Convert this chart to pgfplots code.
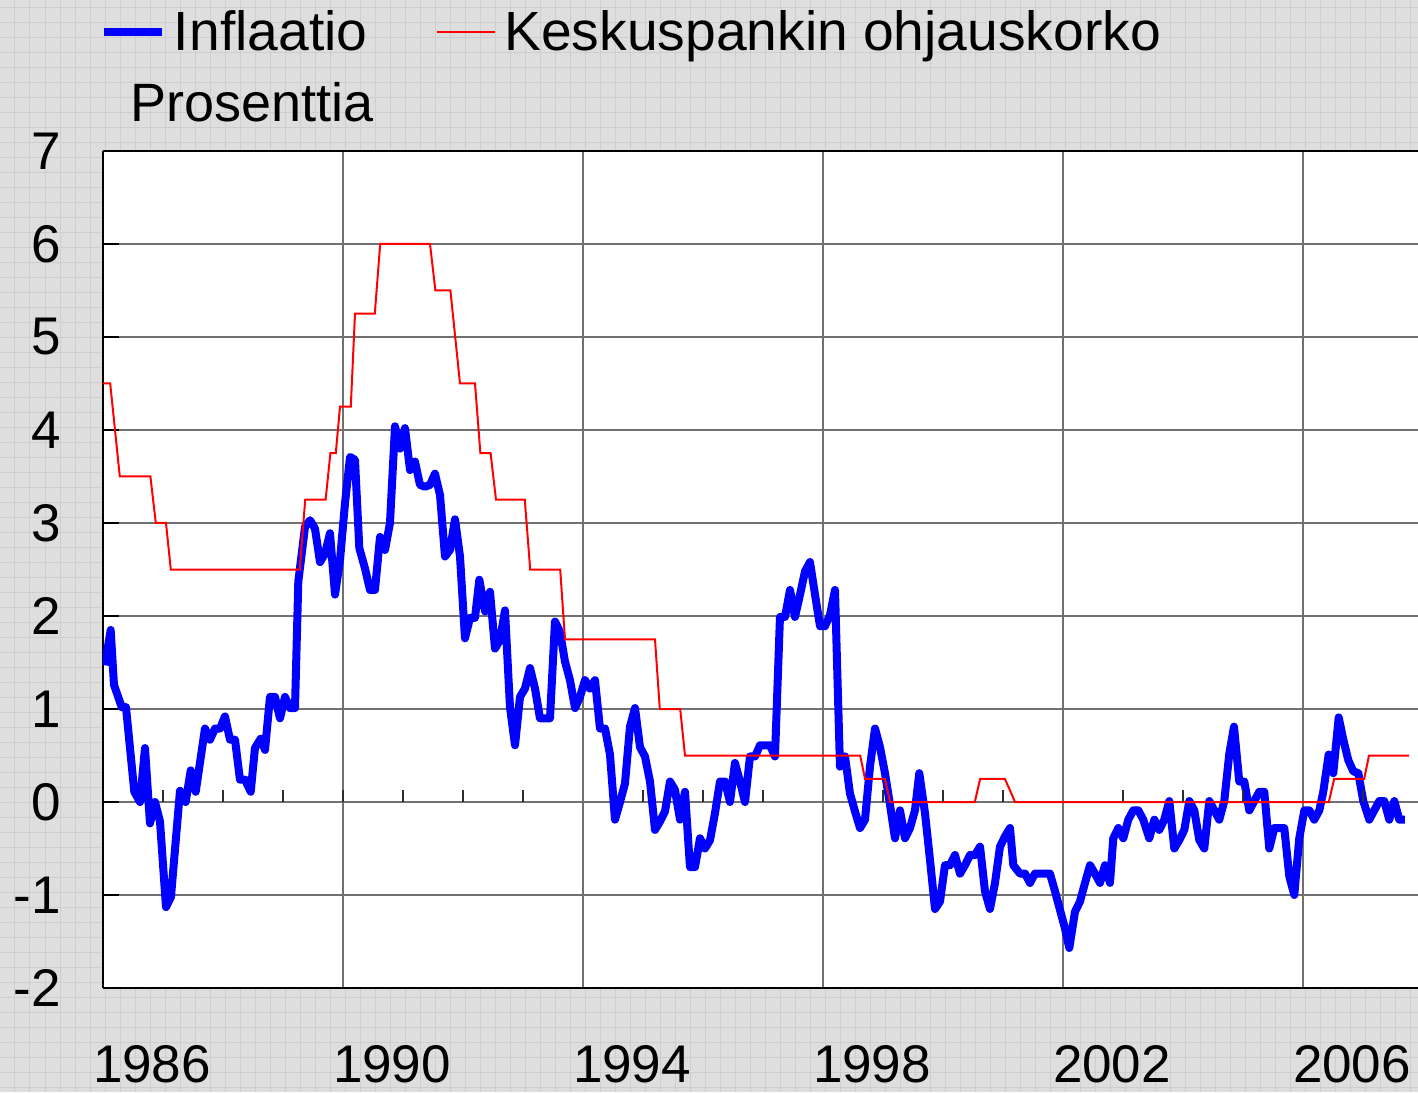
\documentclass[border=0pt]{standalone}
\usepackage{fontspec}
\setmainfont{Liberation Sans}
\usepackage{pgfplots}
\pgfplotsset{compat=1.18}
\definecolor{bgc}{RGB}{222,222,222}
\definecolor{bggrid}{RGB}{206,206,206}
\definecolor{gridc}{RGB}{112,112,112}
\begin{document}
\begin{tikzpicture}
\begin{scope}[shift={(-51.5pt,494pt)},x=0.5pt,y=-0.5pt]
\fill[bgc] (0,0) rectangle (1418,1092);
\foreach \i in {15,30,...,1410} \draw[bggrid,line width=0.5pt] (\i,0)--(\i,1092);
\foreach \j in {7.5,22.5,...,1092} \draw[bggrid,line width=0.5pt] (0,\j)--(1418,\j);
\end{scope}
\begin{axis}[
  at={(0,0)}, anchor=south west,
  scale only axis, width=657.5pt, height=418.5pt,
  xmin=1986, xmax=2007.917, ymin=-2, ymax=7,
  axis lines=left, axis line style={-, line width=1pt, black},
  axis background/.style={fill=white},
  xtick={1986,1990,1994,1998,2002,2006},
  xticklabels={1986,1990,1994,1998,2002,2006},
  ytick={-2,-1,0,1,2,3,4,5,6,7},
  grid=major, major grid style={gridc, line width=0.8pt},
  xtick style={draw=none},
  ytick style={black, line width=0.8pt},
  tick align=inside, major tick length=8pt,
  ticklabel style={font=\fontsize{26.5}{30}\selectfont},
  /pgf/number format/assume math mode=true,
  xticklabel style={anchor=north, inner sep=0pt, xshift=24.5pt, yshift=-28.5pt},
  yticklabel style={anchor=east, inner sep=0pt, xshift=-21pt},
  legend columns=2,
  legend style={at={(axis description cs:0,1)}, anchor=west, xshift=-1.5pt, yshift=59.5pt,
    draw=none, fill=none, inner sep=0pt, outer sep=0pt,
    font=\fontsize{27.6}{32}\selectfont, nodes={inner sep=0pt},
    /tikz/every odd column/.append style={column sep=4pt},
    /tikz/every even column/.append style={column sep=34.5pt}},
  legend image code/.code={\draw[#1] (0pt,0pt) -- (29pt,0pt);},
]
\addplot[color={rgb,255:red,0;green,0;blue,255}, line width=4pt, line join=round] coordinates {
(1986.033,1.47)(1986.128,1.85)(1986.183,1.26)(1986.312,1.02)(1986.383,1.02)(1986.522,0.11)
(1986.617,0.00)(1986.700,0.58)(1986.783,-0.23)(1986.867,0.00)(1986.950,-0.21)(1987.050,-1.13)
(1987.133,-1.02)(1987.283,0.12)(1987.378,0.00)(1987.462,0.34)(1987.545,0.11)(1987.700,0.79)
(1987.783,0.67)(1987.867,0.79)(1987.950,0.79)(1988.033,0.92)(1988.117,0.67)(1988.200,0.67)
(1988.283,0.24)(1988.367,0.24)(1988.462,0.11)(1988.533,0.58)(1988.628,0.68)(1988.700,0.56)
(1988.783,1.13)(1988.867,1.13)(1988.950,0.90)(1989.033,1.13)(1989.117,1.01)(1989.200,1.01)
(1989.255,2.37)(1989.367,2.96)(1989.450,3.03)(1989.533,2.94)(1989.617,2.58)(1989.700,2.67)
(1989.783,2.89)(1989.867,2.23)(1989.950,2.60)(1990.033,3.21)(1990.117,3.71)(1990.200,3.68)
(1990.272,2.73)(1990.367,2.51)(1990.450,2.28)(1990.533,2.28)(1990.617,2.85)(1990.700,2.71)
(1990.783,3.00)(1990.867,4.04)(1990.950,3.80)(1991.033,4.02)(1991.117,3.57)(1991.200,3.66)
(1991.283,3.41)(1991.367,3.39)(1991.450,3.41)(1991.533,3.53)(1991.617,3.30)(1991.700,2.64)
(1991.783,2.71)(1991.867,3.04)(1991.950,2.64)(1992.033,1.76)(1992.117,1.98)(1992.200,1.98)
(1992.272,2.39)(1992.367,2.05)(1992.450,2.26)(1992.533,1.65)(1992.617,1.74)(1992.700,2.06)
(1992.783,1.02)(1992.867,0.61)(1992.950,1.13)(1993.033,1.22)(1993.117,1.44)(1993.200,1.22)
(1993.283,0.90)(1993.367,0.90)(1993.450,0.90)(1993.533,1.94)(1993.617,1.83)(1993.700,1.51)
(1993.783,1.31)(1993.867,1.01)(1993.950,1.13)(1994.033,1.31)(1994.117,1.22)(1994.200,1.31)
(1994.283,0.79)(1994.367,0.79)(1994.450,0.51)(1994.533,-0.19)(1994.617,0.00)(1994.700,0.20)
(1994.783,0.81)(1994.867,1.01)(1994.950,0.59)(1995.033,0.49)(1995.117,0.22)(1995.200,-0.30)
(1995.283,-0.21)(1995.367,-0.10)(1995.450,0.22)(1995.533,0.13)(1995.617,-0.19)(1995.700,0.11)
(1995.783,-0.70)(1995.867,-0.70)(1995.950,-0.39)(1996.033,-0.50)(1996.117,-0.41)(1996.200,-0.12)
(1996.283,0.22)(1996.367,0.22)(1996.450,0.00)(1996.533,0.42)(1996.617,0.22)(1996.700,0.00)
(1996.783,0.49)(1996.867,0.49)(1996.950,0.61)(1997.033,0.61)(1997.117,0.61)(1997.200,0.49)
(1997.283,1.99)(1997.367,1.99)(1997.450,2.28)(1997.533,1.99)(1997.617,2.23)(1997.700,2.48)
(1997.783,2.58)(1997.867,2.23)(1997.950,1.89)(1998.033,1.89)(1998.117,2.01)(1998.200,2.28)
(1998.283,0.38)(1998.367,0.49)(1998.450,0.09)(1998.533,-0.10)(1998.617,-0.28)(1998.700,-0.19)
(1998.783,0.38)(1998.867,0.79)(1998.950,0.59)(1999.033,0.31)(1999.117,-0.03)(1999.200,-0.39)
(1999.283,-0.09)(1999.367,-0.39)(1999.450,-0.28)(1999.533,-0.09)(1999.605,0.31)(1999.700,-0.12)
(1999.783,-0.62)(1999.867,-1.15)(1999.950,-1.07)(2000.033,-0.68)(2000.117,-0.68)(2000.200,-0.57)
(2000.283,-0.77)(2000.367,-0.68)(2000.450,-0.57)(2000.533,-0.57)(2000.617,-0.48)(2000.700,-0.96)
(2000.783,-1.15)(2000.867,-0.87)(2000.950,-0.48)(2001.033,-0.37)(2001.117,-0.28)(2001.172,-0.68)
(2001.283,-0.77)(2001.367,-0.77)(2001.450,-0.87)(2001.533,-0.77)(2001.617,-0.77)(2001.700,-0.77)
(2001.783,-0.77)(2001.867,-0.96)(2001.950,-1.16)(2002.033,-1.36)(2002.105,-1.57)(2002.200,-1.18)
(2002.283,-1.07)(2002.367,-0.87)(2002.450,-0.68)(2002.533,-0.77)(2002.617,-0.87)(2002.700,-0.68)
(2002.783,-0.87)(2002.838,-0.39)(2002.922,-0.28)(2003.005,-0.39)(2003.088,-0.19)(2003.172,-0.09)
(2003.255,-0.09)(2003.338,-0.19)(2003.438,-0.39)(2003.522,-0.19)(2003.605,-0.30)(2003.688,-0.19)
(2003.772,0.01)(2003.855,-0.50)(2003.938,-0.41)(2004.022,-0.30)(2004.105,0.01)(2004.188,-0.09)
(2004.272,-0.41)(2004.355,-0.50)(2004.438,0.01)(2004.522,-0.09)(2004.605,-0.19)(2004.688,0.01)
(2004.772,0.52)(2004.850,0.81)(2004.938,0.22)(2005.022,0.22)(2005.105,-0.09)(2005.188,0.01)
(2005.272,0.11)(2005.355,0.11)(2005.438,-0.50)(2005.522,-0.28)(2005.605,-0.28)(2005.688,-0.28)
(2005.772,-0.80)(2005.855,-1.00)(2005.938,-0.39)(2006.022,-0.09)(2006.105,-0.09)(2006.188,-0.19)
(2006.272,-0.09)(2006.338,0.11)(2006.428,0.51)(2006.505,0.31)(2006.595,0.91)(2006.672,0.67)
(2006.755,0.45)(2006.838,0.33)(2006.922,0.31)(2007.005,0.01)(2007.105,-0.19)(2007.188,-0.09)
(2007.272,0.01)(2007.355,0.01)(2007.438,-0.19)(2007.522,0.01)(2007.605,-0.19)(2007.700,-0.19)
};
\addlegendentry{Inflaatio}
\addplot[color={rgb,255:red,255;green,0;blue,0}, line width=1pt] coordinates {
(1986.00,4.5)(1986.12,4.5)(1986.28,3.5)(1986.79,3.5)(1986.88,3.0)(1987.05,3.0)(1987.13,2.5)
(1989.28,2.5)(1989.37,3.25)(1989.71,3.25)(1989.79,3.75)(1989.88,3.75)(1989.95,4.25)(1990.13,4.25)
(1990.20,5.25)(1990.53,5.25)(1990.62,6.0)(1991.45,6.0)(1991.54,5.5)(1991.79,5.5)(1991.95,4.5)
(1992.20,4.5)(1992.29,3.75)(1992.46,3.75)(1992.55,3.25)(1993.03,3.25)(1993.12,2.5)(1993.62,2.5)
(1993.70,1.75)(1995.20,1.75)(1995.28,1.0)(1995.62,1.0)(1995.70,0.5)(1998.62,0.5)(1998.70,0.25)
(1999.03,0.25)(1999.12,0.0)(2000.53,0.0)(2000.62,0.25)(2001.03,0.25)(2001.10,0.15)(2001.20,0.0)
(2006.43,0.0)(2006.52,0.25)(2007.02,0.25)(2007.10,0.5)(2007.77,0.5)
};
\addlegendentry{Keskuspankin ohjauskorko}
\draw[black, line width=1pt] (rel axis cs:0,1) -- (rel axis cs:1,1);
\pgfplotsinvokeforeach{1987,1988,1989,1990,1991,1992,1993,1995,1996,1997,1999,2000,2001,2003,2004,2005,2007}{
  \draw[gridc!40!black, line width=0.6pt] (axis cs:#1,0) -- ++(0pt,6pt);
}
\end{axis}
\node[anchor=base west, inner sep=0pt, font=\fontsize{27}{32}\selectfont] at (13.5pt,433pt) {Prosenttia};
\pgfresetboundingbox
\path[use as bounding box] (-51.5pt,-52pt) rectangle (657.5pt,494pt);
\end{tikzpicture}
\end{document}
